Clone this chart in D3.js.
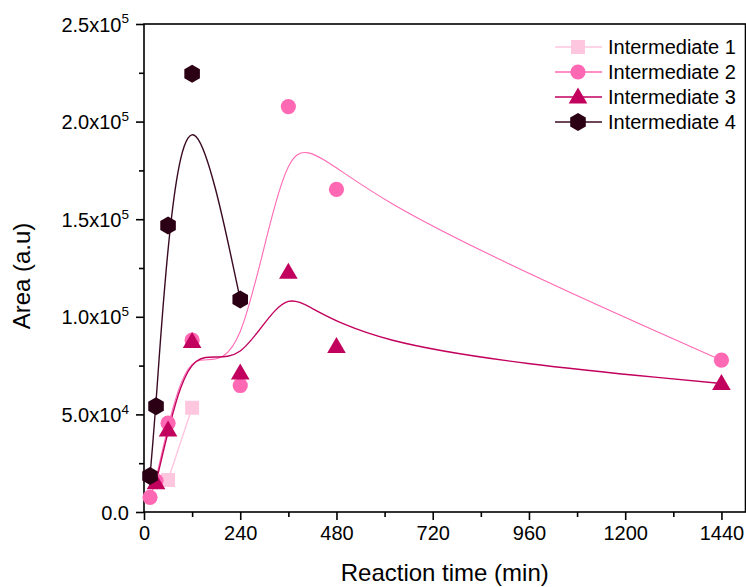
<!DOCTYPE html>
<html>
<head>
<meta charset="utf-8">
<script src="https://cdn.jsdelivr.net/npm/d3@7"></script>
<style>
  html, body { margin: 0; padding: 0; background: #fff; }
  svg { display: block; font-family: "Liberation Sans", Arial, sans-serif; }
</style>
</head>
<body>
<svg id="chart" width="746" height="587"></svg>
<script>
// ---- data ----
const seriesNames = ["Intermediate 1", "Intermediate 2", "Intermediate 3", "Intermediate 4"];
const time1 = [60, 120];
const area1 = [16400, 53400];
const time2 = [15, 30, 60, 120, 240, 360, 480, 1440];
const area2 = [7500, 16000, 45500, 88000, 64800, 207700, 165300, 77800];
const time3 = [30, 60, 120, 240, 360, 480, 1440];
const area3 = [15000, 42000, 87400, 71200, 122800, 84800, 65800];
const time4 = [15, 30, 60, 120, 240];
const area4 = [18500, 54200, 146800, 224500, 108900];
const xTicks = [0, 240, 480, 720, 960, 1200, 1440];
const yTicks = [0, 50000, 100000, 150000, 200000, 250000];

const colors = ["#FFC6DF", "#FF69B4", "#C2005E", "#2B0014"];
const lineColors = ["#FFC6DF", "#FF69B4", "#C2005E", "#3A0A22"];
const shapes = ["square", "circle", "triangle", "hexagon"];

const series = [
  {name: seriesNames[0], t: time1, a: area1},
  {name: seriesNames[1], t: time2, a: area2},
  {name: seriesNames[2], t: time3, a: area3},
  {name: seriesNames[3], t: time4, a: area4}
].map((s, i) => ({...s, color: colors[i], lineColor: lineColors[i], shape: shapes[i],
                  pts: s.t.map((tv, j) => [tv, s.a[j]])}));

// ---- layout ----
const svg = d3.select("#chart");
const L = 144, R = 745.5, T = 24, B = 512;
const x = d3.scaleLinear().domain([0, 1500]).range([L, R]);
const y = d3.scaleLinear().domain([0, 250000]).range([B, T]);

function markerPath(shape) {
  if (shape === "square") return "M-7,-7H7V7H-7Z";
  if (shape === "circle") return d3.symbol(d3.symbolCircle, Math.PI * 7.6 * 7.6)();
  if (shape === "triangle") return "M0,-9.5L9.3,6.5H-9.3Z";
  // pointy-top hexagon
  const r = 9;
  let p = "";
  for (let k = 0; k < 6; k++) {
    const ang = -Math.PI / 2 + k * Math.PI / 3;
    p += (k ? "L" : "M") + (r * Math.cos(ang)).toFixed(2) + "," + (r * Math.sin(ang)).toFixed(2);
  }
  return p + "Z";
}

// ---- axes ----
const xAxis = d3.axisBottom(x).tickValues(xTicks).tickSize(8).tickPadding(6).tickFormat(d3.format("d"));
const xMinor = d3.axisBottom(x).tickValues(d3.range(120, 1500, 240)).tickSize(5).tickFormat("");
const yAxis = d3.axisLeft(y).tickValues(yTicks).tickSize(8).tickPadding(5).tickFormat("");
const yMinor = d3.axisLeft(y).tickValues(d3.range(25000, 250000, 50000)).tickSize(5).tickFormat("");

function styleAxis(g) {
  g.select(".domain").remove();
  g.selectAll("line").attr("stroke", "#000").attr("stroke-width", 1.6);
  g.selectAll("text").attr("fill", "#000");
}

const gx = svg.append("g").attr("transform", `translate(0,${B})`).call(xAxis).call(styleAxis);
gx.selectAll("text").attr("font-size", 20).attr("font-family", "Liberation Sans, Arial, sans-serif");
svg.append("g").attr("transform", `translate(0,${B})`).call(xMinor).call(styleAxis);

const gy = svg.append("g").attr("transform", `translate(${L},0)`).call(yAxis).call(styleAxis);
svg.append("g").attr("transform", `translate(${L},0)`).call(yMinor).call(styleAxis);

gy.selectAll(".tick text").each(function(d) {
  const t = d3.select(this).attr("font-size", 20).attr("font-family", "Liberation Sans, Arial, sans-serif")
    .attr("x", -15).attr("dy", "0.35em");
  if (d === 0) { t.text("0.0"); return; }
  const e = Math.floor(Math.log10(d));
  const m = d / Math.pow(10, e);
  t.text(null);
  t.append("tspan").text(m.toFixed(1) + "x10");
  t.append("tspan").attr("font-size", 13.5).attr("dy", "-0.6em").text(e);
});

// frame
svg.append("rect").attr("x", L).attr("y", T).attr("width", R - L).attr("height", B - T)
  .attr("fill", "none").attr("stroke", "#000").attr("stroke-width", 1.6);

// axis titles
svg.append("text").attr("x", (L + R) / 2).attr("y", 581).attr("text-anchor", "middle")
  .attr("font-size", 24).text("Reaction time (min)");
svg.append("text").attr("transform", `translate(30,${(T + B) / 2 + 8}) rotate(-90)`)
  .attr("text-anchor", "middle").attr("font-size", 24).text("Area (a.u)");

// ---- lines ----
const plot = svg.append("g");
const line = d3.line().x(d => x(d[0])).y(d => y(d[1])).curve(d3.curveBasis);
series.forEach(s => {
  plot.append("path").attr("d", line(s.pts)).attr("fill", "none")
    .attr("stroke", s.lineColor).attr("stroke-width", s.shape === "circle" ? 1.1 : 1.4);
});

// ---- markers ----
series.forEach(s => {
  plot.append("g").selectAll("path").data(s.pts).join("path")
    .attr("d", markerPath(s.shape))
    .attr("transform", d => `translate(${x(d[0])},${y(d[1])})`)
    .attr("fill", s.color);
});

// ---- legend ----
const leg = svg.append("g");
series.forEach((s, i) => {
  const ly = 47 + i * 25;
  leg.append("line").attr("x1", 555).attr("x2", 602).attr("y1", ly).attr("y2", ly)
    .attr("stroke", s.lineColor).attr("stroke-width", 1.4);
  leg.append("path").attr("d", markerPath(s.shape)).attr("transform", `translate(578,${ly})`).attr("fill", s.color);
  leg.append("text").attr("x", 608).attr("y", ly).attr("dy", "0.35em").attr("font-size", 20).text(s.name);
});
</script>
</body>
</html>
